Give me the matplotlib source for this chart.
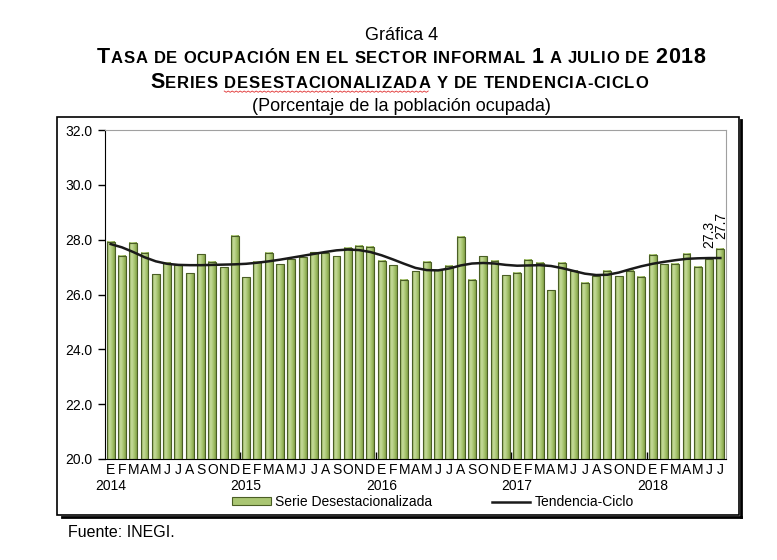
import numpy as np
import matplotlib
matplotlib.use("Agg")
import matplotlib.pyplot as plt
from matplotlib.patches import Rectangle, Patch
from matplotlib.lines import Line2D
from matplotlib.colors import LinearSegmentedColormap

plt.rcParams["font.family"] = ["Liberation Sans", "DejaVu Sans"]

# datos (porcentaje de la poblacion ocupada), ene 2014 - jul 2018
meses = list("EFMAMJJASOND")
anios = [2014, 2015, 2016, 2017, 2018]

serie = [27.92, 27.42, 27.88, 27.52, 26.74, 27.16, 27.09, 26.77, 27.46, 27.19, 26.99, 28.14,
         26.63, 27.19, 27.52, 27.10, 27.29, 27.36, 27.55, 27.52, 27.39, 27.70, 27.77, 27.75,
         27.24, 27.06, 26.54, 26.84, 27.19, 26.88, 27.04, 28.11, 26.54, 27.39, 27.24, 26.70,
         26.80, 27.27, 27.16, 26.15, 27.16, 26.86, 26.43, 26.67, 26.87, 26.66, 26.86, 26.65,
         27.45, 27.10, 27.13, 27.48, 27.01, 27.28, 27.66]

tendencia = [27.84, 27.72, 27.55, 27.36, 27.21, 27.12, 27.08, 27.07, 27.07, 27.08, 27.09, 27.10,
             27.12, 27.16, 27.21, 27.27, 27.34, 27.41, 27.48, 27.55, 27.61, 27.64, 27.62, 27.55,
             27.43, 27.28, 27.12, 26.97, 26.89, 26.88, 26.95, 27.06, 27.13, 27.15, 27.13, 27.08,
             27.05, 27.06, 27.07, 27.04, 26.96, 26.86, 26.76, 26.71, 26.72, 26.80, 26.92, 27.03,
             27.12, 27.19, 27.25, 27.30, 27.32, 27.33, 27.33]

n = len(serie)
x = np.arange(n)
etiquetas = [meses[i % 12] for i in range(n)]

fig = plt.figure(figsize=(7.77, 5.6), dpi=100)
ax = fig.add_axes([105 / 777, 1 - 459 / 560, 621 / 777, 329 / 560])

# barras con degradado
cmap = LinearSegmentedColormap.from_list("verde", ["#8CAB50", "#C6DB9C", "#A9C671", "#84A248"])
grad = np.linspace(0, 1, 32).reshape(1, -1)
w = 0.7
for xi, v in zip(x, serie):
    ax.imshow(grad, extent=[xi - w / 2, xi + w / 2, 20, v], aspect="auto", cmap=cmap, zorder=2)
ax.bar(x, np.array(serie) - 20, bottom=20, width=w, facecolor="none", edgecolor="#4A5E25", lw=0.8, zorder=3)

ax.plot(x, tendencia, color="#1a1a1a", lw=1.8, zorder=4)

ax.set_xlim(-0.5, n - 0.5)
ax.set_ylim(20, 32)
ax.set_yticks(np.arange(20, 33, 2))
ax.set_yticklabels([f"{v:.1f}" for v in np.arange(20, 33, 2)], fontsize=10)
ax.tick_params(axis="y", direction="out", length=5, width=1, pad=4)

ax.set_xticks(x)
ax.set_xticklabels(etiquetas, fontsize=10)
ax.tick_params(axis="x", which="major", length=0, pad=3)
ax.set_xticks([11.5, 23.5, 35.5, 47.5], minor=True)
ax.tick_params(axis="x", which="minor", direction="in", length=5, width=1)

# anios debajo del mes de enero
for k, a in enumerate(anios):
    ax.text(k * 12, -31 / 329, str(a), transform=ax.get_xaxis_transform(),
            ha="center", va="baseline", fontsize=10)

for s in ["top", "right"]:
    ax.spines[s].set_color("#A0A0A0")
for s in ["left", "bottom"]:
    ax.spines[s].set_color("black")

# etiquetas del ultimo dato
ax.annotate(f"{tendencia[-1]:.1f}", xy=(n - 1, tendencia[-1]), xytext=(-8, 7),
            textcoords="offset points", rotation=90, ha="center", va="bottom", fontsize=10)
ax.annotate(f"{serie[-1]:.1f}", xy=(n - 1, serie[-1]), xytext=(0.5, 7),
            textcoords="offset points", rotation=90, ha="center", va="bottom", fontsize=10)

# leyenda
handles = [Patch(facecolor="#AAC673", edgecolor="#4A5E25", lw=0.8),
           Line2D([], [], color="#1a1a1a", lw=1.8)]
fig.legend(handles, ["Serie Desestacionalizada", "Tendencia-Ciclo"], loc="center",
           bbox_to_anchor=(0.557, 0.1036), ncol=2, frameon=False, fontsize=10,
           handlelength=2.8, handleheight=0.5, columnspacing=4.3, handletextpad=0.3)

# marco exterior con sombra
x0, y0 = 57 / 777, 1 - 515 / 560
x1, y1 = 739 / 777, 1 - 117 / 560
fig.add_artist(Rectangle((x0, y0), x1 - x0, y1 - y0, transform=fig.transFigure,
                         fill=False, lw=1.2, ec="black"))
fig.add_artist(Line2D([x1 + 0.0022, x1 + 0.0022], [y0 - 0.003, y1 - 0.006], transform=fig.transFigure,
                      color="black", lw=2))
fig.add_artist(Line2D([x0 + 0.006, x1 + 0.0022], [y0 - 0.003, y0 - 0.003], transform=fig.transFigure,
                      color="black", lw=2))

# titulos
cx = 401.5 / 777
fig.text(cx, 1 - 40 / 560, "Gráfica 4", fontsize=13, ha="center", va="baseline")
fig.text(cx, 1 - 111 / 560, "(Porcentaje de la población ocupada)", fontsize=13, ha="center", va="baseline")

renderer = fig.canvas.get_renderer()
W = fig.bbox.width
H = fig.bbox.height


def ancho(s, size):
    a = fig.text(0, 0, "|" + s + "|", fontsize=size, fontweight="bold")
    b = fig.text(0, 0, "||", fontsize=size, fontweight="bold")
    wa = a.get_window_extent(renderer).width
    wb = b.get_window_extent(renderer).width
    a.remove()
    b.remove()
    return wa - wb


def versalitas(yb, segs, xa, xb):
    # letras una a una, con espaciado para ocupar de xa a xb (pixeles)
    letras = [(ch, sz, k) for k, (s, sz) in enumerate(segs) for ch in s]
    anchos = [ancho(ch, sz) for ch, sz, k in letras]
    extra = (xb - xa - sum(anchos)) / (len(letras) - 1)
    px = xa
    rangos = {}
    for (ch, sz, k), wd in zip(letras, anchos):
        if ch != " ":
            fig.text(px / W, yb, ch, fontsize=sz, fontweight="bold", ha="left", va="baseline")
        r = rangos.setdefault(k, [px, px])
        r[1] = px + wd
        px += wd + extra
    return rangos


G, P = 15.5, 12
versalitas(1 - 63 / 560, [("T", G), ("ASA DE OCUPACIÓN EN EL SECTOR INFORMAL ", P), ("1", G),
                          (" A JULIO DE ", P), ("2018", G)], 97, 705)
rangos = versalitas(1 - 88 / 560, [("S", G), ("ERIES ", P), ("DESESTACIONALIZADA", P),
                                   (" Y DE TENDENCIA-CICLO", P)], 150, 648)

# subrayado ondulado rojo
ra, rb = rangos[2]
xs = np.arange(ra, rb, 2.0)
ys = (560 - 91) + np.where(np.arange(len(xs)) % 2 == 0, 0.0, -1.3)
fig.add_artist(Line2D(xs / W, ys / H, transform=fig.transFigure, color="#E03030", lw=0.6))

fig.text(68 / 777, 1 - 537 / 560, "Fuente: INEGI.", fontsize=11.5, ha="left", va="baseline")

fig.savefig("out.png", dpi=100)
